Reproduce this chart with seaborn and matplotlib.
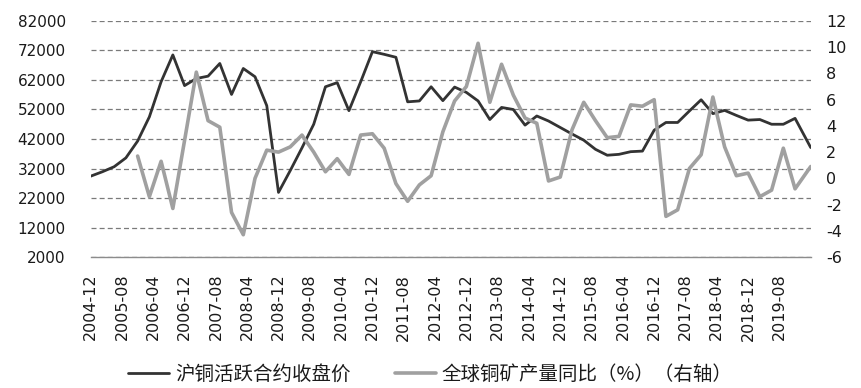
import matplotlib
matplotlib.use("Agg")
import matplotlib.pyplot as plt
import numpy as np
import pandas as pd
import seaborn as sns

# quarterly observations from 2004-12, last reading 2020-04
dates = list(pd.date_range("2004-12-01", "2019-12-01", freq="3MS")) + [pd.Timestamp("2020-04-01")]

copper_close = [
    29400, 30900, 32600, 35600, 41300, 49500, 61400, 70500, 60100, 62500,
    63300, 67600, 57100, 65900, 63100, 53300, 23900, 31300, 39000, 47000,
    59700, 61100, 51600, 61400, 71600, 70700, 69700, 54600, 54900, 59700,
    55000, 59600, 57800, 54900, 48600, 52700, 52000, 46700, 49800, 48100,
    45900, 43700, 41600, 38500, 36500, 36800, 37700, 37900, 45000, 47600,
    47600, 51500, 55300, 50600, 51700, 50000, 48400, 48600, 47000, 47000,
    49000, 39100,
]

mine_yoy = [
    np.nan, np.nan, np.nan, np.nan, 1.7, -1.4, 1.3, -2.3, 2.9, 8.1,
    4.4, 3.9, -2.6, -4.3, 0.0, 2.15, 2.0, 2.4, 3.3, 2.0,
    0.5, 1.5, 0.3, 3.3, 3.4, 2.3, -0.4, -1.75, -0.5, 0.2,
    3.55, 5.9, 7.0, 10.3, 5.8, 8.7, 6.35, 4.6, 4.2, -0.2,
    0.1, 3.7, 5.8, 4.4, 3.1, 3.2, 5.6, 5.5, 6.0, -2.9,
    -2.4, 0.75, 1.8, 6.2, 2.4, 0.2, 0.4, -1.4, -0.9, 2.3,
    -0.8, 0.9,
]

left_ticks = list(range(2000, 82001, 10000))
right_ticks = list(range(-6, 13, 2))

label_copper = "沪铜活跃合约收盘价"
label_mine = "全球铜矿产量同比（%）（右轴）"

df = pd.DataFrame({"date": dates, "copper": copper_close, "mine": mine_yoy})
# month index so that every month gets the same width, like a month based date axis
df["month"] = (df["date"].dt.year - 2004) * 12 + df["date"].dt.month - 12

sns.set_style("white")
plt.rcParams["font.family"] = ["DejaVu Sans", "Noto Sans CJK SC"]

fig = plt.figure(figsize=(8.61, 3.88), dpi=100)
ax = fig.add_axes([0.1053, 0.3376, 0.8363, 0.6083])
ax2 = ax.twinx()

dark = "#333333"
light = "#a0a0a0"

sns.lineplot(data=df, x="month", y="copper", ax=ax, color=dark, linewidth=2.0)
sns.lineplot(data=df.dropna(), x="month", y="mine", ax=ax2, color=light, linewidth=2.6)

ax.set_xlim(0, 184)
ax.set_ylim(2000, 82000)
ax.set_yticks(left_ticks)
ax.set_yticklabels([str(v) for v in left_ticks])
ax2.set_ylim(-6, 12)
ax2.set_yticks(right_ticks)
ax2.set_yticklabels([str(v) for v in right_ticks])

tick_months = list(range(0, 185, 8))
tick_labels = []
for m in tick_months:
    y = 2004 + (m + 11) // 12
    mo = (m + 11) % 12 + 1
    tick_labels.append(f"{y}-{mo:02d}")
tick_labels[-1] = ""
ax.set_xticks(tick_months)
ax.set_xticklabels(tick_labels, rotation=90)

ax.grid(axis="y", color="#7a7a7a", linestyle=(0, (4, 2.5)), linewidth=0.9)
ax.grid(axis="x", visible=False)
ax2.grid(False)
ax.set_axisbelow(True)

for a in (ax, ax2):
    for side in ("left", "right", "top", "bottom"):
        a.spines[side].set_visible(False)
    a.set_xlabel("")
    a.set_ylabel("")
ax.spines["bottom"].set_visible(True)
ax.spines["bottom"].set_color("#8c8c8c")
ax.spines["bottom"].set_linewidth(1.0)

ax.tick_params(axis="y", length=0, pad=18, labelsize=11, labelcolor="#1a1a1a")
ax2.tick_params(axis="y", length=0, pad=11, labelsize=11.5, labelcolor="#1a1a1a")
ax.tick_params(axis="x", direction="out", length=5, width=1.0, color="#8c8c8c",
               pad=7, labelsize=11.5, labelcolor="#1a1a1a")

handles = [
    plt.Line2D([], [], color=dark, linewidth=2.0),
    plt.Line2D([], [], color=light, linewidth=2.6),
]
leg = fig.legend(handles, [label_copper, label_mine], loc="center",
                 bbox_to_anchor=(0.5, 0.035), ncol=2, frameon=False,
                 prop={"family": ["Noto Sans CJK SC", "DejaVu Sans"], "size": 14},
                 handlelength=2.1, handletextpad=0.3, columnspacing=2.3)
for t in leg.get_texts():
    t.set_color("#1a1a1a")

plt.savefig("out.png", dpi=100)
